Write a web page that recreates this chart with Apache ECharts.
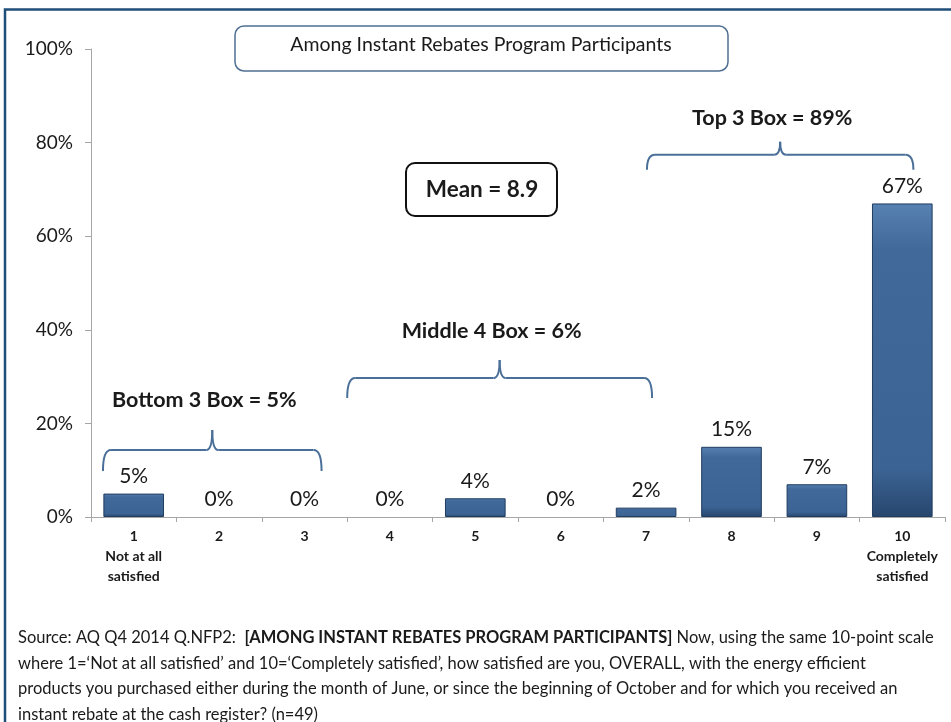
<!DOCTYPE html>
<html>
<head>
<meta charset="utf-8">
<script src="https://cdn.jsdelivr.net/npm/echarts@6/dist/echarts.min.js"></script>
<style>
  html, body { margin: 0; padding: 0; background: #fff; }
  #chart { width: 951px; height: 722px; }
</style>
</head>
<body>
<div id="chart"></div>
<script>
const FONT = 'Lato, "Noto Sans", sans-serif';

// scale points and share of respondents (%)
const categories = ['1\nNot at all\nsatisfied', '2', '3', '4', '5', '6', '7', '8', '9', '10\nCompletely\nsatisfied'];
const values = [5, 0, 0, 0, 4, 0, 2, 15, 7, 67];
const yTicks = [0, 20, 40, 60, 80, 100];

// box summaries: label, first/last category (fractional index), bracket line level (%)
const boxLabels = ['Bottom 3 Box = 5%', 'Middle 4 Box = 6%', 'Top 3 Box = 89%'];
const boxFrom = [-0.36, 2.5, 6.01];
const boxTo = [2.2, 6.07, 9.13];
const boxLevel = [14.3, 29.7, 77.4];

const meanText = 'Mean = 8.9';
const subtitle = 'Among Instant Rebates Program Participants';

const chart = echarts.init(document.getElementById('chart'));

chart.setOption({
  backgroundColor: '#fff',
  animation: false,
  grid: { left: 91, right: 6, top: 49, bottom: 205 },
  xAxis: {
    type: 'category',
    data: categories,
    axisLine: { lineStyle: { color: '#a6a6a6', width: 1 } },
    axisTick: { show: true, length: 5, lineStyle: { color: '#a6a6a6' } },
    axisLabel: {
      color: '#1a1a1a', fontFamily: FONT, fontWeight: 'bold', fontSize: 14,
      lineHeight: 20, margin: 9, interval: 0
    }
  },
  yAxis: {
    type: 'value',
    min: 0, max: 100, interval: 20,
    splitLine: { show: false },
    axisLine: { show: true, lineStyle: { color: '#a6a6a6', width: 1 } },
    axisTick: { show: true, length: 6, lineStyle: { color: '#a6a6a6' } },
    axisLabel: {
      color: '#1a1a1a', fontFamily: FONT, fontSize: 19, margin: 18,
      formatter: v => yTicks.includes(v) ? v + '%' : ''
    }
  },
  series: [{
    type: 'bar',
    data: values.map(v => v === 0 ? { value: v, itemStyle: { borderWidth: 0 } } : v),
    barWidth: '71%',
    itemStyle: {
      color: new echarts.graphic.LinearGradient(0, 0, 0, 1, [
        { offset: 0, color: '#5781b1' },
        { offset: 0.15, color: '#41699a' },
        { offset: 0.85, color: '#3b6393' },
        { offset: 1, color: '#27466d' }
      ]),
      borderColor: '#203c5f',
      borderWidth: 1
    },
    label: {
      show: true, position: 'top', distance: 7,
      color: '#1a1a1a', fontFamily: FONT, fontSize: 21,
      formatter: p => p.value + '%'
    }
  }]
});

// annotations placed through the chart's own axes
const c0 = chart.convertToPixel({ xAxisIndex: 0 }, 0);
const c1 = chart.convertToPixel({ xAxisIndex: 0 }, 1);
const px = v => c0 + v * (c1 - c0);
const py = v => chart.convertToPixel({ yAxisIndex: 0 }, v);

const braceColor = '#4a6f98';
const braceStyle = { fill: null, stroke: braceColor, lineWidth: 2 };
const graphics = [];
const drop = [21, 20, 15];
const peak = [20, 18, 13];
const textGap = [30, 29, 24];

const curve = (x1, y1, cx, cy, x2, y2) => ({
  type: 'bezierCurve', silent: true,
  shape: { x1, y1, x2, y2, cpx1: cx, cpy1: cy },
  style: braceStyle
});
const seg = (x1, y1, x2, y2) => ({
  type: 'line', silent: true, shape: { x1, y1, x2, y2 }, style: braceStyle
});

boxLabels.forEach((label, i) => {
  const x0 = px(boxFrom[i]);
  const x1 = px(boxTo[i]);
  const y = py(boxLevel[i]);
  const xm = (x0 + x1) / 2;
  const r = 8, d = drop[i], p = peak[i];
  graphics.push(curve(x0, y + d, x0, y, x0 + r, y));
  graphics.push(seg(x0 + r, y, xm - 6, y));
  graphics.push(curve(xm - 6, y, xm, y, xm, y - p));
  graphics.push(curve(xm, y - p, xm, y, xm + 6, y));
  graphics.push(seg(xm + 6, y, x1 - r, y));
  graphics.push(curve(x1 - r, y, x1, y, x1, y + d));
  graphics.push({
    type: 'text', x: xm - 8, y: y - p - textGap[i], silent: true,
    style: {
      text: label, fill: '#1a1a1a', fontFamily: FONT, fontWeight: 'bold',
      fontSize: 21.5, align: 'center', verticalAlign: 'middle'
    }
  });
});

// subtitle box
graphics.push({
  type: 'rect', silent: true,
  shape: { x: 235, y: 26, width: 493, height: 45, r: 9 },
  style: { fill: '#fff', stroke: '#4f6f91', lineWidth: 1.5 }
});
graphics.push({
  type: 'text', x: 481, y: 45, silent: true,
  style: {
    text: subtitle, fill: '#1a1a1a', fontFamily: FONT, fontSize: 19.5,
    align: 'center', verticalAlign: 'middle'
  }
});

// mean box
graphics.push({
  type: 'rect', silent: true,
  shape: { x: 406, y: 163, width: 151, height: 53, r: 9 },
  style: { fill: '#fff', stroke: '#111', lineWidth: 2 }
});
graphics.push({
  type: 'text', x: 482, y: 190, silent: true,
  style: {
    text: meanText, fill: '#1a1a1a', fontFamily: FONT, fontWeight: 'bold', fontSize: 22.5,
    align: 'center', verticalAlign: 'middle'
  }
});

// source note
graphics.push({
  type: 'text', x: 18, y: 625, silent: true,
  style: {
    text: '{n|Source: AQ Q4 2014 Q.NFP2:  }{b|[AMONG INSTANT REBATES PROGRAM PARTICIPANTS]}{n| Now, using the same 10-point scale}\n' +
      '{n|where 1=\u2018Not at all satisfied\u2019 and 10=\u2018Completely satisfied\u2019, how satisfied are you, OVERALL, with the energy efficient}\n' +
      '{n|products you purchased either during the month of June, or since the beginning of October and for which you received an}\n' +
      '{n|instant rebate at the cash register? (n=49)}',
    fill: '#1a1a1a', fontFamily: FONT, fontSize: 16.5, lineHeight: 25.5,
    rich: {
      n: { fontFamily: FONT, fontSize: 16.5, lineHeight: 25.5, fill: '#1a1a1a' },
      b: { fontFamily: FONT, fontSize: 16.5, lineHeight: 25.5, fontWeight: 'bold', fill: '#1a1a1a' }
    }
  }
});

// outer frame
graphics.push({
  type: 'rect', silent: true,
  shape: { x: 5, y: 9.5, width: 960, height: 730 },
  style: { fill: null, stroke: '#1f4e79', lineWidth: 2.5 }
});

chart.setOption({ graphic: graphics });
</script>
</body>
</html>
